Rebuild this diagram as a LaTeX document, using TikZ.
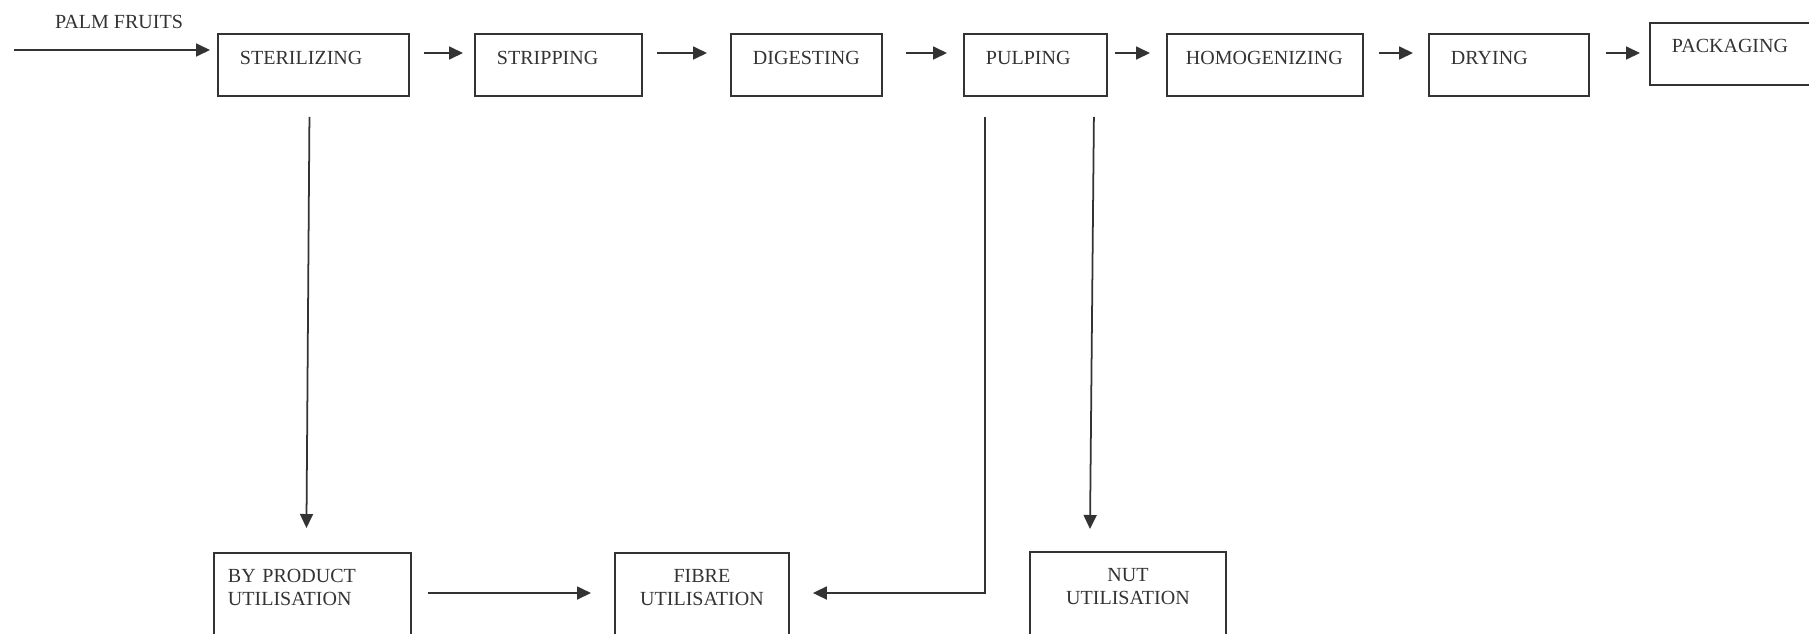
\documentclass[tikz,border=0pt]{standalone}
\usepackage{fontspec}
\setmainfont{Liberation Serif}
\usetikzlibrary{arrows.meta, calc}

\colorlet{ink}{black!80}

\tikzset{
    procbox/.style={draw=ink, line width=1.1pt, anchor=north west, inner xsep=0.44cm, inner ysep=0pt,
        align=left, text height=0.62cm, text depth=0.62cm},
    utilbox/.style={draw=ink, line width=1.1pt, anchor=north west, inner xsep=0.44cm, inner ysep=0pt,
        text height=0.6cm, text depth=1.6cm},
    flow/.style={draw=ink, line width=1pt, -{Triangle[length=0.28cm, width=0.26cm]}}
}

\begin{document}
\begin{tikzpicture}[x=0.02cm, y=-0.02cm, font=\fontsize{11.4}{13.1}\selectfont, text=ink]
    % Page frame
    \useasboundingbox (0,0) rectangle (1809,633);
    \clip (0,0) rectangle (1809,633);

    % Processing line
    \node[procbox, text width=2.94cm] (ster) at (217,33) {STERILIZING};
    \node[procbox, text width=2.46cm] (strip) at (474,33) {STRIPPING};
    \node[procbox, text width=2.14cm] (dig) at (730,33) {DIGESTING};
    \node[procbox, text width=1.98cm] (pulp) at (963,33) {PULPING};
    \node[procbox, inner xsep=0.38cm, text width=3.16cm] (homog) at (1166,33) {HOMOGENIZING};
    \node[procbox, text width=2.32cm] (dry) at (1428,33) {DRYING};
    \node[procbox, text width=3.12cm, text height=0.59cm, text depth=0.65cm] (pack) at (1649,22) {PACKAGING};

    % Feed
    \node (palm) at (119,21.5) {PALM FRUITS};
    \coordinate (feed) at (14,50);
    \draw[flow] (feed) -- ($(ster.north west)+(-7,17)$);

    % Arrows between stages
    \draw[flow] ($(ster.north east)+(14,20)$) -- ($(strip.north west)+(-11,20)$);
    \draw[flow] ($(strip.north east)+(14,20)$) -- ($(dig.north west)+(-23,20)$);
    \draw[flow] ($(dig.north east)+(23,20)$) -- ($(pulp.north west)+(-16,20)$);
    \draw[flow] ($(pulp.north east)+(7,20)$) -- ($(homog.north west)+(-16,20)$);
    \draw[flow] ($(homog.north east)+(15,20)$) -- ($(dry.north west)+(-15,20)$);
    \draw[flow] ($(dry.north east)+(16,20)$) -- ($(pack.north west)+(-9,31)$);

    % Utilisation boxes
    \node[utilbox, inner xsep=0.28cm, text width=3.38cm, align=left] (byprod) at (213,552) {BY PRODUCT\\UTILISATION};
    \node[utilbox, text width=2.6cm, align=center] (fibre) at (614,552) {FIBRE\\UTILISATION};
    \node[utilbox, text width=3.04cm, align=center] (nut) at (1029,551) {NUT\\UTILISATION};

    % Side streams
    \draw[flow] ($(ster.south)+(-4,20)$) -- ($(byprod.north)+(-6,-24)$);
    \draw[flow] ($(byprod.north east)+(16,41)$) -- ($(fibre.north west)+(-23,41)$);
    \draw[flow] ($(pulp.south west)+(22,20)$) |- ($(fibre.north east)+(23,41)$);
    \draw[flow] ($(pulp.south east)+(-14,20)$) -- ($(nut.north west)+(61,-22)$);
\end{tikzpicture}
\end{document}
